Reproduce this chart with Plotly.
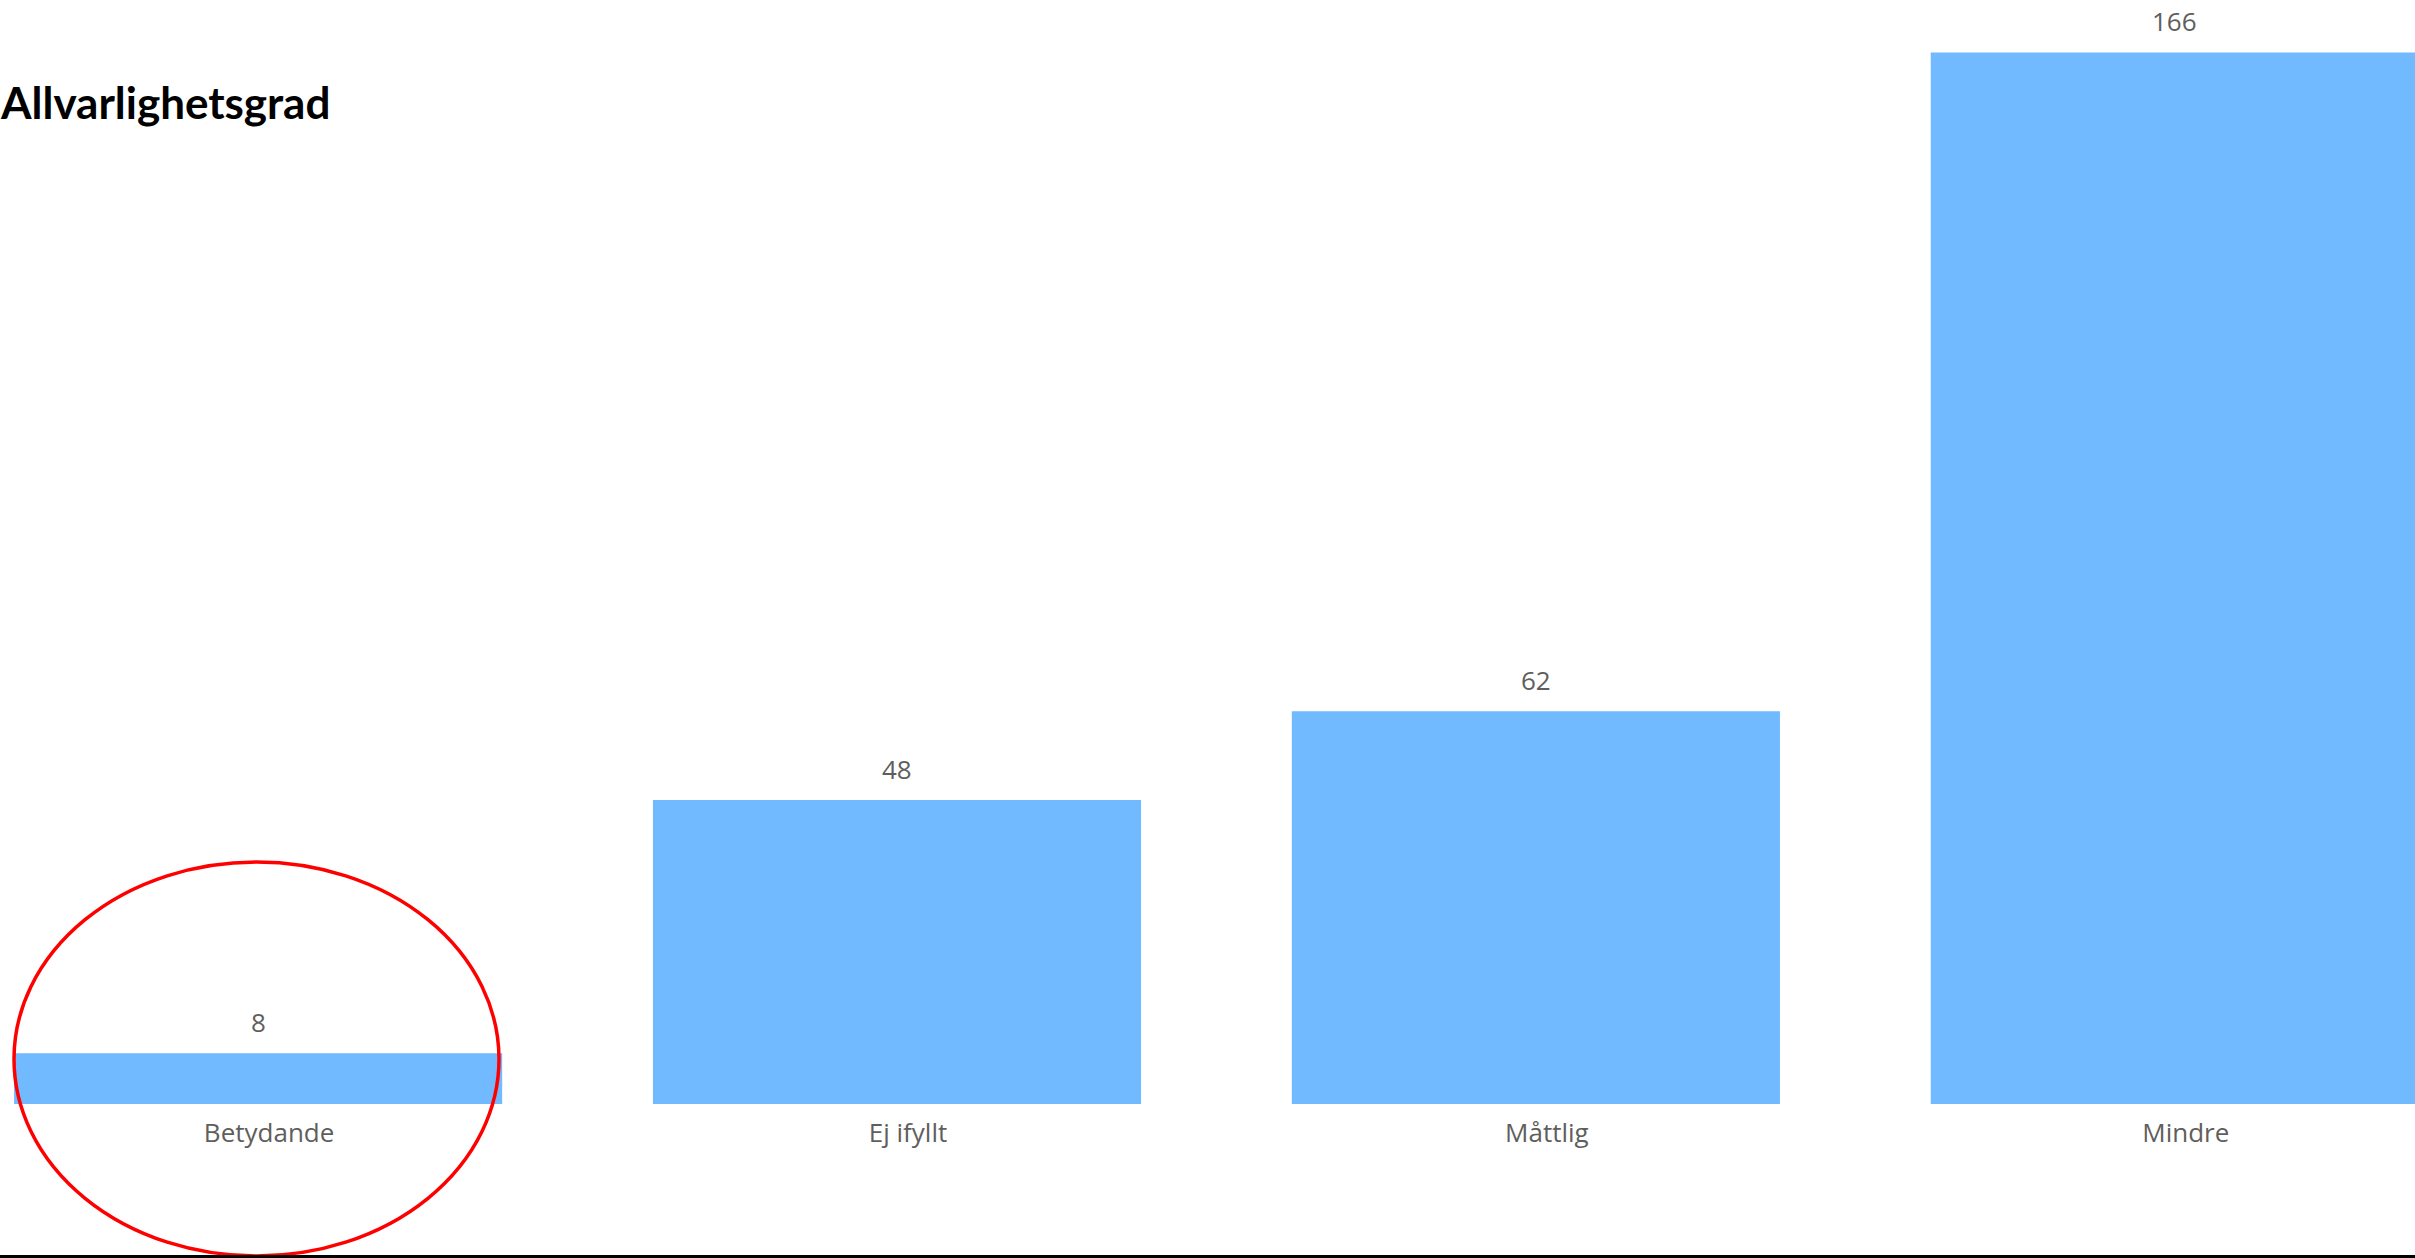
import plotly.graph_objects as go

categories = ["Betydande", "Ej ifyllt", "Måttlig", "Mindre"]
values = [8, 48, 62, 166]
title_text = "Allvarlighetsgrad"

W, H = 2415, 1258
BAR_COLOR = "#71BAFF"
TEXT_GREY = "#605E5C"

baseline_px = 1104
px_per_unit = 6.335
y_top = baseline_px / px_per_unit

fig = go.Figure()
fig.add_trace(go.Bar(
    x=categories,
    y=values,
    marker=dict(color=BAR_COLOR, line=dict(width=0)),
    hoverinfo="x+y",
))

# value labels above bars
for c, v in zip(categories, values):
    fig.add_annotation(
        x=c, y=v, xref="x", yref="y",
        text=str(v), showarrow=False,
        yanchor="middle", xanchor="center", yshift=31,
        font=dict(family="Segoe UI, Open Sans, sans-serif", size=26, color=TEXT_GREY),
    )

fig.update_layout(
    width=W, height=H,
    margin=dict(l=0, r=0, t=0, b=0, autoexpand=False),
    paper_bgcolor="white", plot_bgcolor="white",
    bargap=0.236,
    showlegend=False,
    xaxis=dict(
        type="category",
        range=[-0.404, 3.376],
        showgrid=False, zeroline=False, showline=False,
        ticks="", ticklabelshift=11, ticklabelstandoff=11,
        tickfont=dict(family="Segoe UI, Open Sans, sans-serif", size=26, color=TEXT_GREY),
        fixedrange=True,
    ),
    yaxis=dict(
        domain=[(H - baseline_px) / H, 1],
        range=[0, y_top],
        visible=False,
        fixedrange=True,
    ),
    annotations=list(fig.layout.annotations) + [
        dict(
            text="<b>" + title_text + "</b>",
            xref="paper", yref="paper", x=-0.0008, y=(H - 102) / H,
            xanchor="left", yanchor="middle", showarrow=False,
            font=dict(family="Lato, Calibri, sans-serif", size=44, color="black"),
        )
    ],
    shapes=[
        dict(type="circle", xref="paper", yref="paper",
             x0=14 / W, x1=499 / W, y0=(H - 1256) / H, y1=(H - 862) / H,
             line=dict(color="#FF0000", width=3.5)),
        dict(type="line", xref="paper", yref="paper",
             x0=0, x1=1, y0=1.5 / H, y1=1.5 / H,
             line=dict(color="black", width=3)),
    ],
)

fig.write_html(
    "out.html",
    config={"displayModeBar": False},
    post_script="document.body.style.margin='0';document.body.style.overflow='hidden';",
)
